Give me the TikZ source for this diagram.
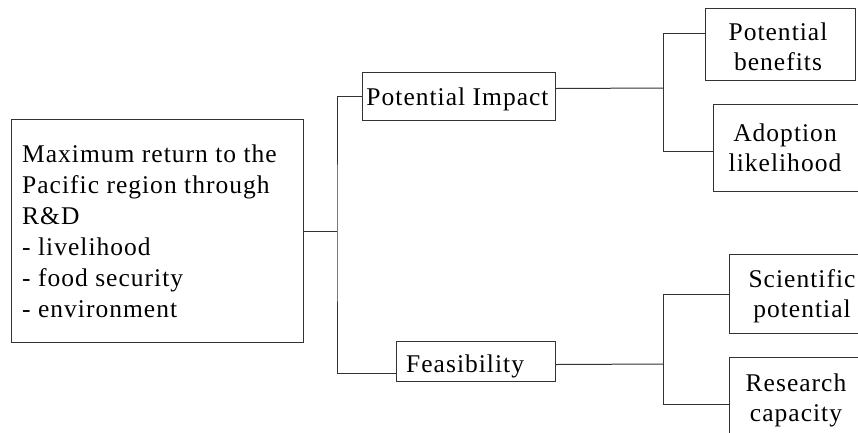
\documentclass[tikz,border=0pt]{standalone}
\usepackage{fontspec}
\setmainfont{Liberation Serif}[LetterSpace=4]
\begin{document}
\begin{tikzpicture}[x=1pt,y=-1pt,
  box/.style={draw=black!80, line width=1pt, rectangle, inner sep=0pt, anchor=north west},
  txt/.style={inner sep=0pt, align=center, font=\fontsize{25.5}{30}\selectfont},
  ltxt/.style={inner sep=0pt, align=left, font=\fontsize{25.5}{31}\selectfont},
  wire/.style={draw=black!80, line width=1pt}]
\useasboundingbox (0,0) rectangle (858,432);
\clip (0,0) rectangle (858,432);
% boxes
\node[box, minimum width=292pt, minimum height=223pt] (goal) at (11,119) {};
\node[box, minimum width=193pt, minimum height=48pt] (pi) at (362,72) {};
\node[box, minimum width=159pt, minimum height=40pt] (feas) at (396,341) {};
\node[box, minimum width=150pt, minimum height=72pt] (pb) at (705,8) {};
\node[box, minimum width=160pt, minimum height=87pt] (ad) at (713,104) {};
\node[box, minimum width=150pt, minimum height=79pt] (sci) at (729,254) {};
\node[box, minimum width=150pt, minimum height=94pt] (res) at (729,357) {};
% texts (anchor base = baseline of the last line)
\node[ltxt, anchor=base west] (goalt) at (22,317) {Maximum return to the\\Pacific region through\\R\&D\\- livelihood\\- food security\\- environment};
\node[txt, anchor=base] (pit) at (457.5,105.5) {Potential Impact};
\node[txt, anchor=base west] (feast) at (406,372) {Feasibility};
\node[txt, anchor=base] (pbt) at (778,70) {Potential\\benefits};
\node[txt, anchor=base] (adt) at (785,171) {Adoption\\likelihood};
\node[txt, anchor=base] (scit) at (802,317) {Scientific\\potential};
\node[txt, anchor=base] (rest) at (796,421) {Research\\capacity};
% junctions
\coordinate (j1) at (337,231);
\coordinate (j2) at (663,88);
\coordinate (j3) at (663,364);
\coordinate (feasin) at ([yshift=-12pt]feas.west);
\coordinate (piout) at ([yshift=8pt]pi.east);
\coordinate (feasout) at ([yshift=-3pt]feas.east);
\coordinate (pbin) at ([yshift=11pt]pb.west);
\coordinate (adin) at ([yshift=-3.5pt]ad.west);
% connectors
\draw[wire] (goal.east) -- (goal.east -| j1);
\draw[wire] (pi.west) -| (j1) |- (feasin);
\draw[wire] (piout) -- (j2);
\draw[wire] (pbin) -| (j2) |- (adin);
\draw[wire] (feasout) -- (j3);
\draw[wire] (sci.west) -| (j3) |- (res.west);
\end{tikzpicture}
\end{document}
